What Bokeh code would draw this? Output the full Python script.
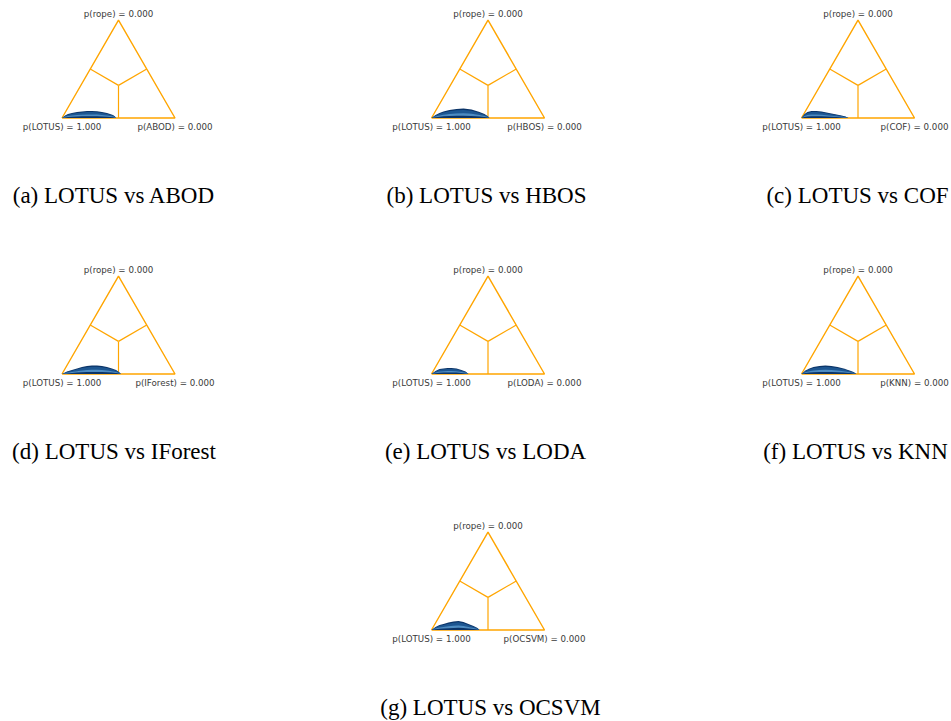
import numpy as np
from bokeh.plotting import figure
from bokeh.models import Range1d, Spacer
from bokeh.layouts import row, column
from bokeh.core.properties import value
from bokeh.embed import file_html
from bokeh.resources import INLINE

# ---------------- data ----------------
letters = ["a", "b", "c", "d", "e", "f", "g"]
method_left = "LOTUS"
methods = ["ABOD", "HBOS", "COF", "IForest", "LODA", "KNN", "OCSVM"]
p_left = [1.000, 1.000, 1.000, 1.000, 1.000, 1.000, 1.000]
p_rope = [0.000, 0.000, 0.000, 0.000, 0.000, 0.000, 0.000]
p_right = [0.000, 0.000, 0.000, 0.000, 0.000, 0.000, 0.000]

# posterior sample cloud (projected simplex coords): position along base and cloud height
cloud_x_abod = [0, 0.027, 0.053, 0.088, 0.133, 0.177, 0.221, 0.265, 0.31, 0.354, 0.398, 0.425, 0.451, 0.469, 0.478]
cloud_h_abod = [0, 0.022, 0.035, 0.044, 0.053, 0.058, 0.062, 0.062, 0.060, 0.053, 0.044, 0.035, 0.027, 0.013, 0]
cloud_x_hbos = [0, 0.035, 0.071, 0.106, 0.159, 0.221, 0.283, 0.354, 0.425, 0.469, 0.496, 0.513]
cloud_h_hbos = [0, 0.027, 0.044, 0.058, 0.071, 0.080, 0.084, 0.075, 0.053, 0.035, 0.018, 0]
cloud_x_cof = [0, 0.027, 0.053, 0.088, 0.133, 0.177, 0.221, 0.265, 0.31, 0.354, 0.389, 0.416]
cloud_h_cof = [0, 0.035, 0.053, 0.062, 0.062, 0.058, 0.049, 0.040, 0.031, 0.022, 0.013, 0]
cloud_x_iforest = [0, 0.044, 0.088, 0.133, 0.177, 0.221, 0.265, 0.31, 0.354, 0.398, 0.442, 0.478, 0.504, 0.522]
cloud_h_iforest = [0, 0.022, 0.035, 0.049, 0.062, 0.071, 0.075, 0.075, 0.071, 0.062, 0.049, 0.035, 0.018, 0]
cloud_x_loda = [0, 0.035, 0.071, 0.106, 0.142, 0.177, 0.221, 0.265, 0.301, 0.327]
cloud_h_loda = [0, 0.027, 0.044, 0.049, 0.053, 0.053, 0.049, 0.035, 0.022, 0]
cloud_x_knn = [0, 0.035, 0.071, 0.106, 0.159, 0.212, 0.265, 0.319, 0.372, 0.425, 0.460, 0.487]
cloud_h_knn = [0, 0.031, 0.049, 0.062, 0.071, 0.075, 0.071, 0.062, 0.049, 0.031, 0.018, 0]
cloud_x_ocsvm = [0, 0.035, 0.071, 0.106, 0.150, 0.195, 0.239, 0.283, 0.327, 0.372, 0.407, 0.425]
cloud_h_ocsvm = [0, 0.027, 0.044, 0.053, 0.066, 0.075, 0.080, 0.071, 0.053, 0.035, 0.018, 0]

clouds_x = [cloud_x_abod, cloud_x_hbos, cloud_x_cof, cloud_x_iforest, cloud_x_loda, cloud_x_knn, cloud_x_ocsvm]
clouds_h = [cloud_h_abod, cloud_h_hbos, cloud_h_cof, cloud_h_iforest, cloud_h_loda, cloud_h_knn, cloud_h_ocsvm]

# ---------------- layout constants ----------------
SCALE = 113.0          # pixels per simplex unit
COL_W = 317
ROW_H = [256, 256, 209]
BASE_FROM_TOP = 117.5  # px from row top to triangle base
VERTEX_IN_COL = [61.5, 114.0, 167.0]
CAPTION_OFF = [52, 55, 56, 52, 54, 54, 59]   # caption centre, px right of left vertex
ORANGE = "#ffa500"
LABEL_COLOR = "#3a3a3a"


def project(pts):
    pts = np.asarray(pts, dtype=float)
    p1, p2, p3 = pts.T / np.sqrt(3)
    x = (p2 - p1) * np.cos(np.pi / 6) + 0.5
    y = p3 - (p1 + p2) * np.sin(np.pi / 6) + 1 / (2 * np.sqrt(3))
    return x, y


def panel(i, col, rowi):
    H = ROW_H[rowi]
    x0 = -VERTEX_IN_COL[col] / SCALE
    y1 = BASE_FROM_TOP / SCALE
    y0 = y1 - H / SCALE
    p = figure(width=COL_W, height=H,
               x_range=Range1d(x0, x0 + COL_W / SCALE),
               y_range=Range1d(y0, y1),
               output_backend="svg", toolbar_location=None,
               x_axis_location=None, y_axis_location=None,
               min_border=0)
    p.grid.visible = False
    p.outline_line_color = None

    # triangle: left = first method, right = second, top = rope
    tri_x = [0, 0.5, 1.0, 0]
    tri_y = [0, np.sqrt(3) / 2, 0, 0]
    p.line(tri_x, tri_y, line_color=ORANGE, line_width=1.4)
    cx, cy = project([[1 / 3, 1 / 3, 1 / 3]])
    mx, my = project([[.5, .5, 0], [.5, 0, .5], [0, .5, .5]])
    for a, b in zip(mx, my):
        p.line([cx[0], a], [cy[0], b], line_color=ORANGE, line_width=1.2)

    # posterior cloud
    cxs = np.array(clouds_x[i])
    chs = np.array(clouds_h[i])
    p.varea(x=cxs, y1=np.zeros_like(chs), y2=chs, fill_color="#0b3468")
    p.varea(x=cxs, y1=0.45 * chs, y2=0.85 * chs, fill_color="#1f5a96", fill_alpha=0.9)
    p.varea(x=cxs, y1=0.25 * chs, y2=0.5 * chs, fill_color="#5b9bd0", fill_alpha=0.85)

    # vertex labels
    lab_font = value("DejaVu Sans")
    p.text(x=[0.5], y=[np.sqrt(3) / 2 + 0.052], text=["p(rope) = {:.3f}".format(p_rope[i])],
           text_align="center", text_baseline="middle", text_font=lab_font,
           text_font_size="8.7px", text_color=LABEL_COLOR)
    p.text(x=[0.0, 1.0], y=[-0.084, -0.084],
           text=["p({}) = {:.3f}".format(method_left, p_left[i]),
                 "p({}) = {:.3f}".format(methods[i], p_right[i])],
           text_align="center", text_baseline="middle", text_font=lab_font,
           text_font_size="8.7px", text_color=LABEL_COLOR)

    # caption
    p.text(x=[CAPTION_OFF[i] / SCALE], y=[-77.5 / SCALE],
           text=["({}) {} vs {}".format(letters[i], method_left, methods[i])],
           text_align="center", text_baseline="middle",
           text_font=value("Liberation Serif"), text_font_size="23px", text_color="black")
    return p


figs = []
positions = [(0, 0), (1, 0), (2, 0), (0, 1), (1, 1), (2, 1), (1, 2)]
for i, (c, r) in enumerate(positions):
    figs.append(panel(i, c, r))

layout = column(
    row(figs[0], figs[1], figs[2]),
    row(figs[3], figs[4], figs[5]),
    row(Spacer(width=COL_W, height=ROW_H[2]), figs[6], Spacer(width=COL_W, height=ROW_H[2])),
)

open("out.html", "w").write(file_html(layout, INLINE))
